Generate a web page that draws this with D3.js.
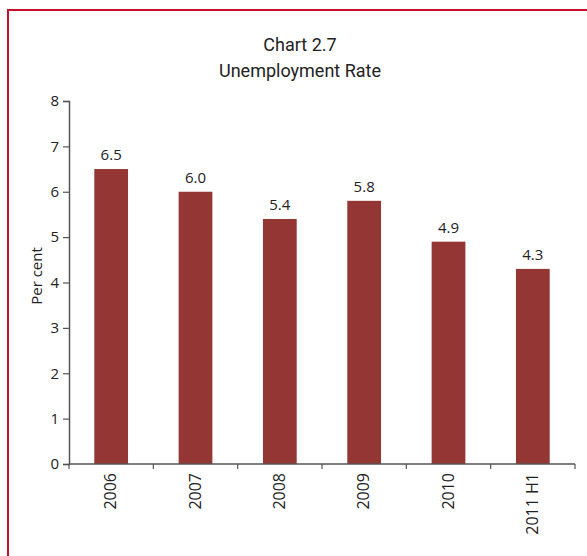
<!DOCTYPE html>
<html>
<head>
<meta charset="utf-8">
<script src="https://cdn.jsdelivr.net/npm/d3@7"></script>
<style>
  html, body { margin: 0; padding: 0; background: #fff; }
  svg { display: block; }
</style>
</head>
<body>
<script>
// Unemployment rate by year
const categories = ["2006", "2007", "2008", "2009", "2010", "2011 H1"];
const rates = [6.5, 6.0, 5.4, 5.8, 4.9, 4.3];
const rateLabels = ["6.5", "6.0", "5.4", "5.8", "4.9", "4.3"];
const yTicks = [0, 1, 2, 3, 4, 5, 6, 7, 8];
const titleLines = ["Chart 2.7", "Unemployment Rate"];
const yTitle = "Per cent";

const W = 587, H = 556;
const labelFont = "'Open Sans', sans-serif";
const svg = d3.select("body").append("svg").attr("width", W).attr("height", H);

// outer frame
svg.append("rect")
  .attr("x", 8).attr("y", 10)
  .attr("width", W).attr("height", H)
  .attr("fill", "none").attr("stroke", "#c8102e").attr("stroke-width", 2);

const plot = { left: 69, right: 575, top: 101, bottom: 464 };

const x = d3.scaleBand().domain(categories).range([plot.left, plot.right]).padding(0);
const y = d3.scaleLinear().domain([0, 8]).range([plot.bottom, plot.top]);

const barW = x.bandwidth() * 0.4;
const barColor = "#943634";
const axisColor = "#555";
const textColor = "#222";

// bars
svg.selectAll("rect.bar").data(rates).enter().append("rect")
  .attr("class", "bar")
  .attr("x", (d, i) => x(categories[i]) + (x.bandwidth() - barW) / 2)
  .attr("y", d => y(d))
  .attr("width", barW)
  .attr("height", d => y(0) - y(d))
  .attr("fill", barColor);

// value labels
svg.selectAll("text.val").data(rates).enter().append("text")
  .attr("class", "val")
  .attr("x", (d, i) => x(categories[i]) + x.bandwidth() / 2)
  .attr("y", d => y(d) - 9)
  .attr("text-anchor", "middle")
  .attr("font-family", labelFont)
  .attr("font-size", 15)
  .attr("fill", textColor)
  .text((d, i) => rateLabels[i]);

// y axis
const yAxis = svg.append("g")
  .attr("transform", `translate(${plot.left},0)`)
  .call(d3.axisLeft(y).tickValues(yTicks).tickSize(6).tickPadding(4).tickFormat(d3.format("d")));
yAxis.select(".domain").attr("stroke", axisColor).attr("stroke-width", 1.5);
yAxis.selectAll(".tick line").attr("stroke", axisColor).attr("stroke-width", 1.2);
yAxis.selectAll(".tick text")
  .attr("font-family", labelFont)
  .attr("font-size", 15)
  .attr("fill", textColor);

// x axis with boundary ticks between categories
const xg = svg.append("g").attr("transform", `translate(0,${plot.bottom})`);
xg.append("line")
  .attr("x1", plot.left).attr("x2", plot.right)
  .attr("y1", 0).attr("y2", 0)
  .attr("stroke", axisColor).attr("stroke-width", 1.5);
const boundaries = categories.map(c => x(c)).concat([plot.right]);
xg.selectAll("line.tick").data(boundaries).enter().append("line")
  .attr("class", "tick")
  .attr("x1", d => d).attr("x2", d => d)
  .attr("y1", 0).attr("y2", 5)
  .attr("stroke", axisColor).attr("stroke-width", 1.2);
xg.selectAll("text.cat").data(categories).enter().append("text")
  .attr("class", "cat")
  .attr("transform", d => `translate(${x(d) + x.bandwidth() / 2 + 5},9) rotate(-90)`)
  .attr("text-anchor", "end")
  .attr("font-family", labelFont)
  .attr("font-size", 16)
  .attr("fill", textColor)
  .text(d => d);

// y axis title
svg.append("text")
  .attr("transform", `translate(42,276) rotate(-90)`)
  .attr("text-anchor", "middle")
  .attr("font-family", labelFont)
  .attr("font-size", 15)
  .attr("fill", textColor)
  .text(yTitle);

// chart title
svg.selectAll("text.title").data(titleLines).enter().append("text")
  .attr("class", "title")
  .attr("x", 300)
  .attr("y", (d, i) => 51 + i * 26)
  .attr("text-anchor", "middle")
  .attr("font-family", "Roboto, sans-serif")
  .attr("font-size", 18)
  .attr("fill", textColor)
  .text(d => d);
</script>
</body>
</html>
